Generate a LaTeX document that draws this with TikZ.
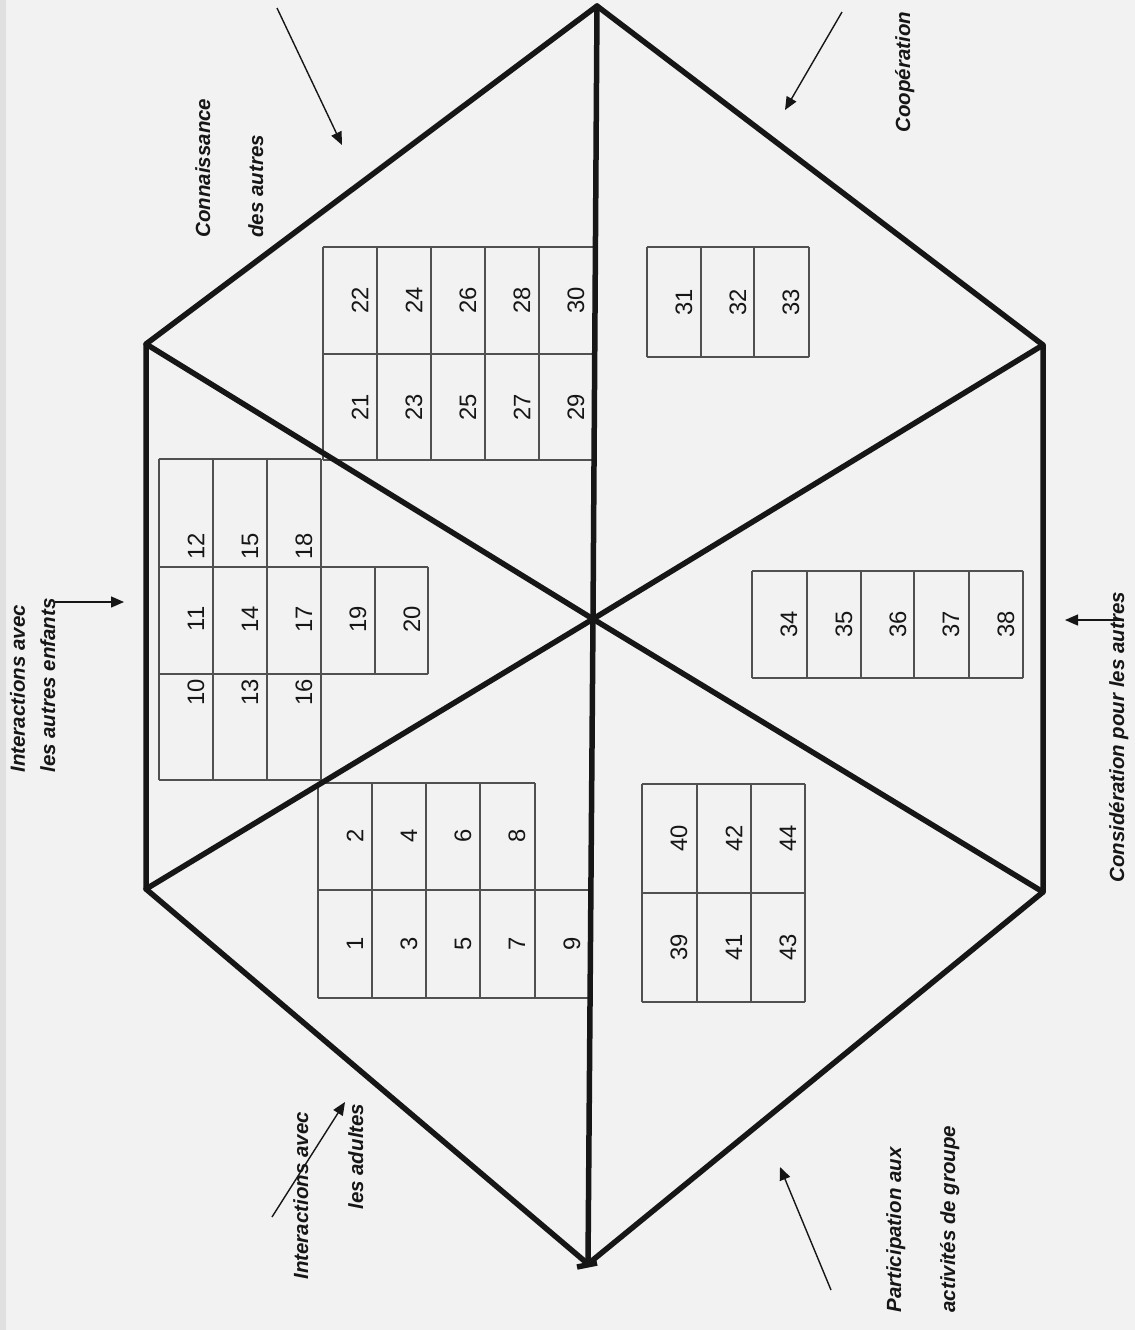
\documentclass[tikz,border=0pt]{standalone}
\usepackage{fontspec}
\setmainfont{Liberation Sans}
\usetikzlibrary{arrows.meta}
\definecolor{paper}{RGB}{241,242,241}
\definecolor{ink}{RGB}{22,22,22}
\definecolor{gridc}{RGB}{80,80,80}
\tikzset{
  hexline/.style={ink, line width=2.75pt, line cap=round, line join=round},
  cell/.style={gridc, line width=0.55pt},
  num/.style={rotate=90, inner sep=0pt, anchor=center, text=ink, font=\fontsize{11.9}{14}\selectfont},
  lab/.style={rotate=90, inner sep=0pt, anchor=base west, text=ink, font=\fontsize{10.25}{12}\selectfont\bfseries\itshape},
  ptr/.style={ink, line width=0.7pt, -{Triangle[length=6.5pt,width=5.5pt]}}
}
\begin{document}
\begin{tikzpicture}[x=0.5pt,y=-0.5pt]
\fill[paper] (0,0) rectangle (1135,1330);
\fill[black!12] (0,0) rectangle (6,1330);
\useasboundingbox (0,0) rectangle (1135,1330);

% ---------- tables (thin grid) ----------
% table A : 1-9
\foreach \x in {318,372,426,480,535} \draw[cell] (\x,783) -- (\x,998);
\draw[cell] (590,890) -- (590,998);
\draw[cell] (318,783) -- (535,783);
\draw[cell] (318,890) -- (590,890);
\draw[cell] (318,998) -- (590,998);
% table B : 10-20
\foreach \x in {159,213,267,321} \draw[cell] (\x,459) -- (\x,780);
\foreach \x in {375,428} \draw[cell] (\x,567) -- (\x,674);
\draw[cell] (159,459) -- (321,459);
\draw[cell] (159,567) -- (428,567);
\draw[cell] (159,674) -- (428,674);
\draw[cell] (159,780) -- (321,780);
% table C : 21-30
\foreach \x in {323,377,431,485,539} \draw[cell] (\x,247) -- (\x,460);
\foreach \y in {247,354,460} \draw[cell] (323,\y) -- (593,\y);
% table D : 31-33
\foreach \x in {647,701,754,809} \draw[cell] (\x,247) -- (\x,357);
\foreach \y in {247,357} \draw[cell] (647,\y) -- (809,\y);
% table E : 34-38
\foreach \x in {752,807,861,914,969,1023} \draw[cell] (\x,571) -- (\x,678);
\foreach \y in {571,678} \draw[cell] (752,\y) -- (1023,\y);
% table F : 39-44
\foreach \x in {642,697,751,805} \draw[cell] (\x,784) -- (\x,1002);
\foreach \y in {784,893,1002} \draw[cell] (642,\y) -- (805,\y);

% ---------- numbers ----------
\node[num] (n1) at (355,944) {1};
\node[num] (n2) at (355,836) {2};
\node[num] (n3) at (409,944) {3};
\node[num] (n4) at (409,836) {4};
\node[num] (n5) at (463,944) {5};
\node[num] (n6) at (463,836) {6};
\node[num] (n7) at (517,944) {7};
\node[num] (n8) at (517,836) {8};
\node[num] (n9) at (572,944) {9};
\node[num] (n10) at (196,692) {10};
\node[num] (n11) at (196,619) {11};
\node[num] (n12) at (196,546) {12};
\node[num] (n13) at (250,692) {13};
\node[num] (n14) at (250,619) {14};
\node[num] (n15) at (250,546) {15};
\node[num] (n16) at (304,692) {16};
\node[num] (n17) at (304,619) {17};
\node[num] (n18) at (304,546) {18};
\node[num] (n19) at (358,619) {19};
\node[num] (n20) at (412,619) {20};
\node[num] (n21) at (360,407) {21};
\node[num] (n22) at (360,300) {22};
\node[num] (n23) at (414,407) {23};
\node[num] (n24) at (414,300) {24};
\node[num] (n25) at (468,407) {25};
\node[num] (n26) at (468,300) {26};
\node[num] (n27) at (522,407) {27};
\node[num] (n28) at (522,300) {28};
\node[num] (n29) at (576,407) {29};
\node[num] (n30) at (576,300) {30};
\node[num] (n31) at (684,302) {31};
\node[num] (n32) at (738,302) {32};
\node[num] (n33) at (791,302) {33};
\node[num] (n34) at (789,624) {34};
\node[num] (n35) at (844,624) {35};
\node[num] (n36) at (898,624) {36};
\node[num] (n37) at (951,624) {37};
\node[num] (n38) at (1006,624) {38};
\node[num] (n39) at (679,947) {39};
\node[num] (n40) at (679,838) {40};
\node[num] (n41) at (734,947) {41};
\node[num] (n42) at (734,838) {42};
\node[num] (n43) at (788,947) {43};
\node[num] (n44) at (788,838) {44};

% ---------- hexagon ----------
\coordinate (T) at (597,6);
\coordinate (UL) at (146,344);
\coordinate (LL) at (146,889);
\coordinate (B) at (588,1264);
\coordinate (LR) at (1043,892);
\coordinate (UR) at (1043,345);
\coordinate (C) at (593,619);
\draw[hexline] (T) -- (UL) -- (LL) -- (B) -- (LR) -- (UR) -- cycle;
\draw[hexline] (T) -- (C) -- (B);
\draw[hexline] (UL) -- (C) -- (LR);
\draw[hexline] (LL) -- (C) -- (UR);
\coordinate (Bx1) at (577,1267);
\coordinate (Bx2) at (597,1263);
\draw[hexline, line cap=butt] (Bx1) -- (Bx2);

% ---------- labels ----------
\node[lab] (l1a) at (210,238) {Connaissance};
\node[lab] (l1b) at (263,238) {des autres};
\node[lab] (l2) at (910,133) {Coopération};
\node[lab] (l3a) at (25,773) {Interactions avec};
\node[lab] (l3b) at (55,773) {les autres enfants};
\node[lab] (l4a) at (308,1280) {Interactions avec};
\node[lab] (l4b) at (363,1210) {les adultes};
\node[lab] (l5a) at (901,1313) {Participation aux};
\node[lab] (l5b) at (955,1313) {activités de groupe};
\node[lab] (l6) at (1124,883) {Considération pour les autres};

% ---------- pointers ----------
\coordinate (a1s) at (277,8);    \coordinate (a1e) at (342,145);
\coordinate (a2s) at (842,12);   \coordinate (a2e) at (785,110);
\coordinate (a3s) at (55,602);   \coordinate (a3e) at (124,602);
\coordinate (a4s) at (272,1217); \coordinate (a4e) at (345,1102);
\coordinate (a5s) at (831,1290); \coordinate (a5e) at (780,1167);
\coordinate (a6s) at (1120,620); \coordinate (a6e) at (1065,620);
\draw[ptr] (a1s) -- (a1e);
\draw[ptr] (a2s) -- (a2e);
\draw[ptr] (a3s) -- (a3e);
\draw[ptr] (a4s) -- (a4e);
\draw[ptr] (a5s) -- (a5e);
\draw[ptr] (a6s) -- (a6e);
\end{tikzpicture}
\end{document}
